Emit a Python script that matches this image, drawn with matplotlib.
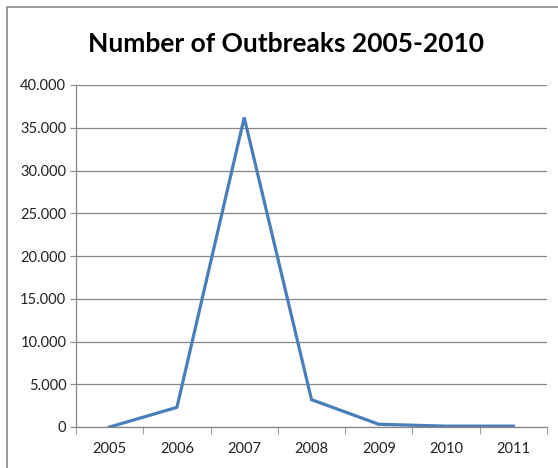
import numpy as np
import matplotlib.pyplot as plt
from matplotlib.lines import Line2D
from matplotlib.ticker import FuncFormatter

years = ["2005", "2006", "2007", "2008", "2009", "2010", "2011"]
outbreaks = [0, 2300, 36200, 3200, 320, 100, 100]
y_ticks = [0, 5000, 10000, 15000, 20000, 25000, 30000, 35000, 40000]

plt.rcParams['font.family'] = ['Lato', 'DejaVu Sans']

W, H = 558, 468
fig = plt.figure(figsize=(W / 100, H / 100), dpi=100)
ax = fig.add_axes([76 / W, 1 - 427 / H, (547 - 76) / W, (427 - 85) / H])

x = np.arange(len(years))
ax.plot(x, outbreaks, color='#4a7ebb', lw=2.3, solid_joinstyle='miter')

ax.set_xlim(-0.5, len(years) - 0.5)
ax.set_ylim(0, 40000)
ax.set_yticks(y_ticks)
ax.yaxis.set_major_formatter(FuncFormatter(
    lambda v, _: "0" if v == 0 else f"{int(v):,}".replace(",", ".")))
ax.set_xticks(x)
ax.set_xticklabels(years)
ax.set_xticks(np.arange(-0.5, len(years)), minor=True)

ax.grid(axis='y', color='#878787', lw=0.9)
ax.set_axisbelow(True)
for s in ['top', 'right']:
    ax.spines[s].set_visible(False)
for s in ['left', 'bottom']:
    ax.spines[s].set_color('#878787')
    ax.spines[s].set_linewidth(0.9)

ax.tick_params(axis='y', length=4, color='#878787', labelsize=10.5,
               labelcolor='#222222', pad=3)
ax.tick_params(axis='x', which='major', length=0, labelsize=10.5,
               labelcolor='#222222', pad=11)
ax.tick_params(axis='x', which='minor', length=5, color='#878787')

fig.text(286 / W, 1 - 44 / H, "Number of Outbreaks 2005-2010",
         ha='center', va='center', fontsize=19, fontweight='bold')

# outer chart frame (cropped on right and bottom)
fig.add_artist(Line2D([7 / W, 7 / W, 1.01], [-0.01, 1 - 7 / H, 1 - 7 / H],
                      transform=fig.transFigure, color='#878787', lw=1.2))

fig.savefig("out.png", dpi=100)
